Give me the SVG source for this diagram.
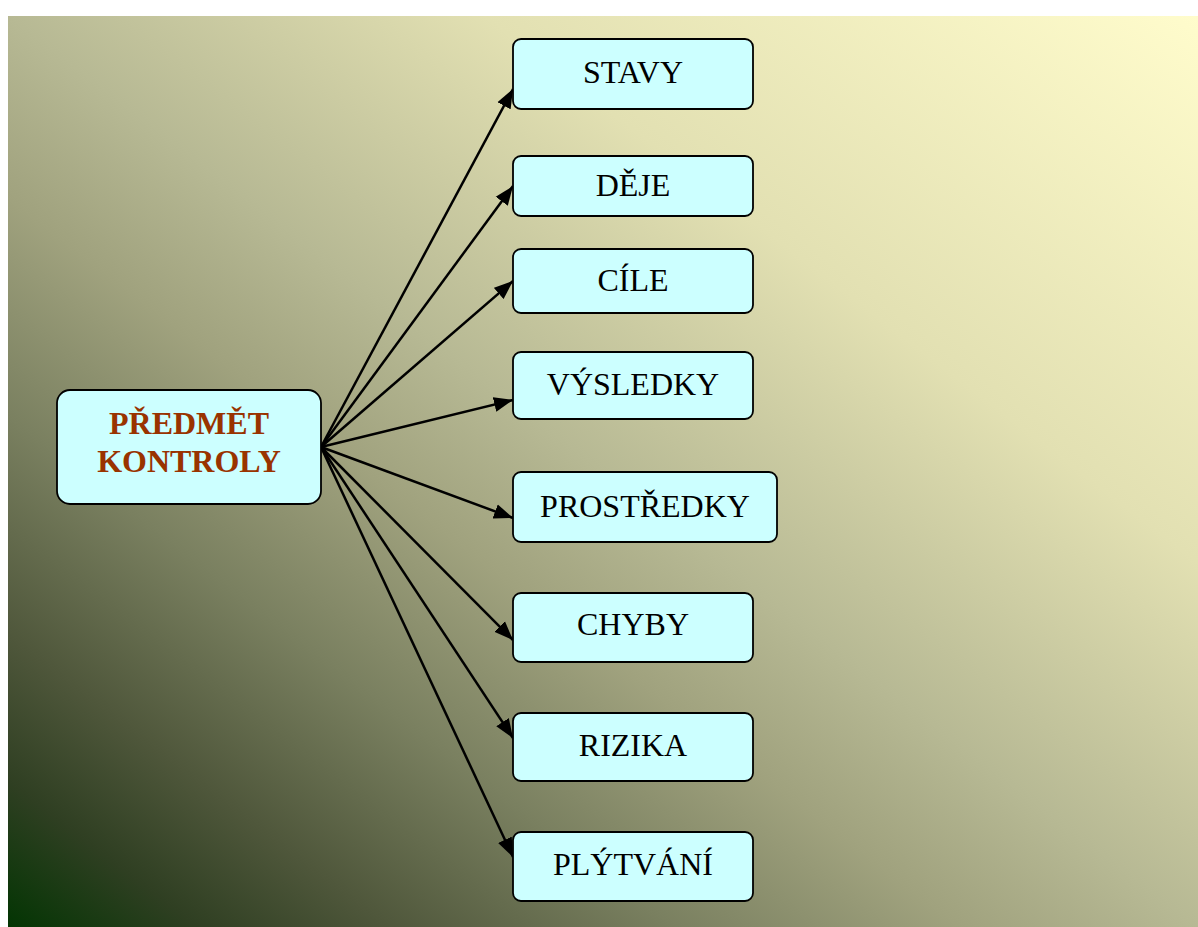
<svg xmlns="http://www.w3.org/2000/svg" width="1198" height="927" viewBox="0 0 1198 927">
  <defs>
    <linearGradient id="bg" x1="0" y1="1" x2="1" y2="0">
      <stop offset="0" stop-color="#033503"/>
      <stop offset="0.08" stop-color="#2f3f22"/>
      <stop offset="0.16" stop-color="#4f573b"/>
      <stop offset="0.28" stop-color="#7a8060"/>
      <stop offset="0.4" stop-color="#a0a27e"/>
      <stop offset="0.5" stop-color="#b7b994"/>
      <stop offset="0.7" stop-color="#e2e0b2"/>
      <stop offset="1" stop-color="#fffccc"/>
    </linearGradient>
    <marker id="arrow" markerUnits="userSpaceOnUse" markerWidth="22" markerHeight="16" refX="19" refY="8" orient="auto">
      <path d="M0,0.5 L19,8 L0,15.5 Z" fill="#000"/>
    </marker>
  </defs>
  <style>
    .box { fill: #ccffff; stroke: #000; stroke-width: 1.8; }
    .lbl { font-family: "Liberation Serif", "Times New Roman", serif; font-size: 32px; fill: #000; text-anchor: middle; }
    .main { font-family: "Liberation Serif", "Times New Roman", serif; font-size: 32px; font-weight: bold; fill: #993300; text-anchor: middle; }
    .conn line { stroke: #000; stroke-width: 2.5; marker-end: url(#arrow); }
  </style>

  <rect width="1198" height="927" fill="#ffffff"/>
  <rect x="8" y="16" width="1190" height="911" fill="url(#bg)"/>

  <g id="connectors" class="conn">
    <line x1="321" y1="447" x2="513" y2="89"/>
    <line x1="321" y1="447" x2="513" y2="186"/>
    <line x1="321" y1="447" x2="513" y2="281"/>
    <line x1="321" y1="447" x2="513" y2="400"/>
    <line x1="321" y1="447" x2="513" y2="518"/>
    <line x1="321" y1="447" x2="513" y2="640"/>
    <line x1="321" y1="447" x2="513" y2="738"/>
    <line x1="321" y1="447" x2="513" y2="857"/>
  </g>

  <g id="predmet-kontroly">
    <rect class="box" x="57" y="390" width="264" height="114" rx="13"/>
    <text class="main" x="189" y="434">PŘEDMĚT</text>
    <text class="main" x="189" y="472">KONTROLY</text>
  </g>

  <g id="stavy">
    <rect class="box" x="513" y="39" width="240" height="70" rx="8"/>
    <text class="lbl" x="633" y="83">STAVY</text>
  </g>
  <g id="deje">
    <rect class="box" x="513" y="156" width="240" height="60" rx="8"/>
    <text class="lbl" x="633" y="196">DĚJE</text>
  </g>
  <g id="cile">
    <rect class="box" x="513" y="249" width="240" height="64" rx="8"/>
    <text class="lbl" x="633" y="291">CÍLE</text>
  </g>
  <g id="vysledky">
    <rect class="box" x="513" y="352" width="240" height="67" rx="8"/>
    <text class="lbl" x="633" y="395">VÝSLEDKY</text>
  </g>
  <g id="prostredky">
    <rect class="box" x="513" y="472" width="264" height="70" rx="8"/>
    <text class="lbl" x="645" y="517">PROSTŘEDKY</text>
  </g>
  <g id="chyby">
    <rect class="box" x="513" y="593" width="240" height="69" rx="8"/>
    <text class="lbl" x="633" y="635">CHYBY</text>
  </g>
  <g id="rizika">
    <rect class="box" x="513" y="713" width="240" height="68" rx="8"/>
    <text class="lbl" x="633" y="756">RIZIKA</text>
  </g>
  <g id="plytvani">
    <rect class="box" x="513" y="832" width="240" height="69" rx="8"/>
    <text class="lbl" x="633" y="875">PLÝTVÁNÍ</text>
  </g>
</svg>
